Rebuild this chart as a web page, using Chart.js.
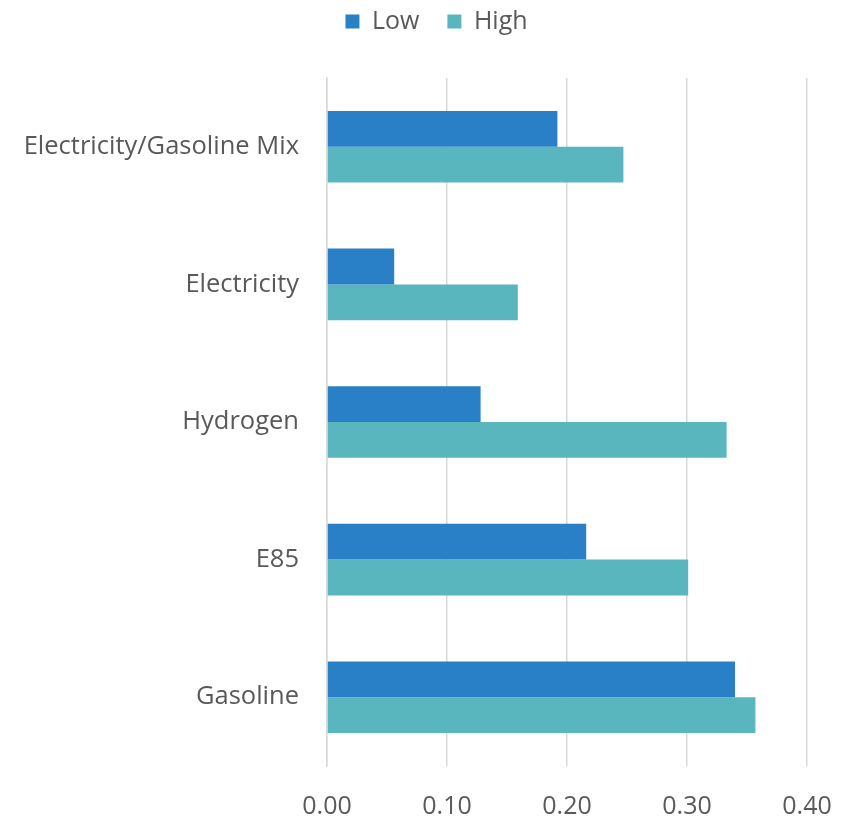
<!DOCTYPE html>
<html>
<head>
<meta charset="utf-8">
<script src="https://cdn.jsdelivr.net/npm/chart.js@4"></script>
<style>
  html, body { margin: 0; padding: 0; background: #fff; }
  #wrap { width: 850px; height: 817px; }
</style>
</head>
<body>
<div id="wrap"><canvas id="chart"></canvas></div>
<script>
const categories = ["Electricity/Gasoline Mix", "Electricity", "Hydrogen", "E85", "Gasoline"];
const lowValues = [0.192, 0.056, 0.128, 0.216, 0.340];
const highValues = [0.247, 0.159, 0.333, 0.301, 0.357];
const seriesNames = ["Low", "High"];

const textColor = "#595959";
const gridColor = "#d9d9d9";

// extra room under the legend so the plot starts lower,
// and nudge the legend right so it sits centred on the page
const legendGap = {
  id: "legendGap",
  beforeInit(chart) {
    const fit = chart.legend.fit;
    chart.legend.fit = function () {
      fit.bind(chart.legend)();
      this.height += 34;
    };
  },
  afterLayout(chart) {
    chart.legend.left += 33;
    chart.legend.right += 33;
  },
};

new Chart(document.getElementById("chart"), {
  type: "bar",
  data: {
    labels: categories,
    datasets: [
      {
        label: seriesNames[0],
        data: lowValues,
        backgroundColor: "#2a80c6",
        categoryPercentage: 0.52,
        barPercentage: 1.0,
      },
      {
        label: seriesNames[1],
        data: highValues,
        backgroundColor: "#5ab6be",
        categoryPercentage: 0.52,
        barPercentage: 1.0,
      },
    ],
  },
  options: {
    indexAxis: "y",
    responsive: true,
    maintainAspectRatio: false,
    animation: false,
    layout: { padding: { top: -19, right: 43, left: 0, bottom: 0 } },
    plugins: {
      legend: {
        position: "top",
        labels: {
          boxWidth: 14,
          boxHeight: 14,
          padding: 28,
          color: textColor,
          font: { family: "Open Sans", size: 25 },
        },
      },
      tooltip: { enabled: false },
    },
    scales: {
      x: {
        min: 0,
        max: 0.4,
        ticks: {
          stepSize: 0.1,
          color: textColor,
          padding: 26,
          font: { family: "Open Sans", size: 25 },
          callback: (v) => Number(v).toFixed(2),
        },
        grid: { color: gridColor, lineWidth: 1.5, drawTicks: false },
        border: { display: false },
        afterFit: (scale) => {
          scale.height = 51;
          scale.paddingRight = 0;
          scale.paddingLeft = 0;
        },
      },
      y: {
        ticks: {
          color: textColor,
          padding: 28,
          font: { family: "Open Sans", size: 25.5 },
        },
        grid: { display: false, drawTicks: false },
        border: { display: true, color: gridColor, width: 1.5 },
        afterFit: (scale) => { scale.width = 327; },
      },
    },
  },
  plugins: [legendGap],
});
</script>
</body>
</html>
